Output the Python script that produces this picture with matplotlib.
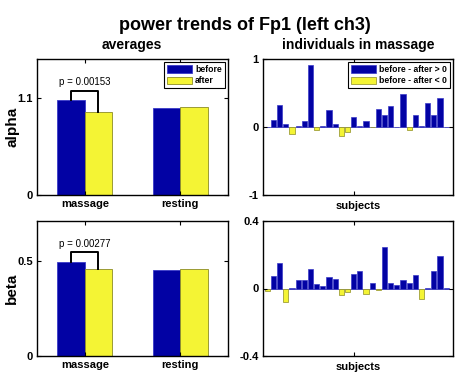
import numpy as np
import matplotlib
matplotlib.use('Agg')
import matplotlib.pyplot as plt

plt.rcParams['font.family'] = ['Liberation Sans', 'DejaVu Sans']
plt.rcParams['font.weight'] = 'bold'

# ---- data ----
conditions = ['massage', 'resting']
alpha_before = [1.073, 0.987]
alpha_after = [0.938, 0.998]
beta_before = [0.495, 0.451]
beta_after = [0.455, 0.455]
alpha_p = 'p = 0.00153'
beta_p = 'p = 0.00277'

# before - after per subject (massage)
alpha_diff = [0.0, 0.10, 0.33, 0.04, -0.10, 0.01, 0.09, 0.91, -0.05, 0.02,
              0.25, 0.04, -0.13, -0.08, 0.14, 0.01, 0.09, -0.005, 0.26, 0.17,
              0.31, 0.0, 0.49, -0.05, 0.17, 0.01, 0.35, 0.18, 0.42, 0.004]
beta_diff = [-0.012, 0.077, 0.149, -0.079, 0.003, 0.048, 0.050, 0.113, 0.028, 0.014,
             0.069, 0.057, -0.040, -0.018, 0.087, 0.105, -0.030, 0.030, -0.010, 0.248,
             0.030, 0.020, 0.048, 0.034, 0.081, -0.061, 0.001, 0.101, 0.194, 0.003]

BLUE = '#0202a4'
BLUE_EDGE = '#3a3ac8'
YELLOW = '#f4f434'
YELLOW_EDGE = '#8c8c24'

W, H = 459, 377
fig = plt.figure(figsize=(W / 100, H / 100), dpi=100)


def axes_px(left, top, right, bottom):
    return fig.add_axes([left / W, 1 - bottom / H, (right - left) / W, (bottom - top) / H])


def style(ax):
    ax.tick_params(direction='in', top=True, right=True, length=3, width=0.8,
                   labelsize=8, pad=3)
    for s in ax.spines.values():
        s.set_linewidth(1.0)
    for lab in ax.get_xticklabels() + ax.get_yticklabels():
        lab.set_fontweight('bold')


def avg_panel(ax, before, after, ymax, yticks, ptext, bracket_y, text_y):
    x = np.arange(1, len(before) + 1)
    bw = 0.286
    ax.bar(x - bw / 2, before, bw, color=BLUE, edgecolor=BLUE_EDGE, lw=0.6, label='before')
    ax.bar(x + bw / 2, after, bw, color=YELLOW, edgecolor=YELLOW_EDGE, lw=0.6, label='after')
    ax.set_xlim(0.5, 2.5)
    ax.set_ylim(0, ymax)
    ax.set_xticks(x)
    ax.set_xticklabels(conditions)
    ax.set_yticks(yticks)
    ax.set_yticklabels([str(t) for t in yticks])
    # significance bracket
    x0, x1 = x[0] - bw / 2, x[0] + bw / 2
    ax.plot([x0, x0, x1, x1], [before[0], bracket_y, bracket_y, after[0]],
            color='black', lw=1.4)
    ax.text(x[0], text_y, ptext, ha='center', va='center', fontsize=7, fontweight='normal')
    style(ax)


def ind_panel(ax, diff, lim):
    n = np.arange(1, len(diff) + 1)
    d = np.array(diff)
    pos = d >= 0
    ax.bar(n[pos], d[pos], 0.85, color=BLUE, edgecolor=BLUE_EDGE, lw=0.5,
           label='before - after > 0')
    ax.bar(n[~pos], d[~pos], 0.85, color=YELLOW, edgecolor=YELLOW_EDGE, lw=0.5,
           label='before - after < 0')
    ax.axhline(0, color='#9090b0', lw=0.7, zorder=0)
    ax.set_xlim(0.3, 31.1)
    ax.set_ylim(-lim, lim)
    ax.set_xticks([15])
    ax.set_xticklabels([''])
    ax.set_yticks([-lim, 0, lim])
    ax.set_yticklabels([f'{-lim:g}', '0', f'{lim:g}'])
    ax.set_xlabel('subjects', fontsize=8, fontweight='bold', labelpad=1)
    style(ax)


leg_kw = dict(loc='upper right', prop={'weight': 'bold', 'size': 6.2}, fancybox=False,
              edgecolor='black', framealpha=1, handlelength=2.9, handleheight=0.9,
              borderpad=0.3, labelspacing=0.25, handletextpad=0.4, borderaxespad=0.4)

ax1 = axes_px(37, 59, 228, 195)
avg_panel(ax1, alpha_before, alpha_after, 1.537, [0, 1.1], alpha_p, 1.178, 1.28)
lg = ax1.legend(**leg_kw)
lg.get_frame().set_linewidth(0.8)

ax2 = axes_px(263, 59, 453, 195)
ind_panel(ax2, alpha_diff, 1)
lg = ax2.legend(**leg_kw)
lg.get_frame().set_linewidth(0.8)

ax3 = axes_px(37, 221, 228, 356)
avg_panel(ax3, beta_before, beta_after, 0.71, [0, 0.5], beta_p, 0.547, 0.59)

ax4 = axes_px(263, 221, 453, 356)
ind_panel(ax4, beta_diff, 0.4)

fig.text(245 / W, 1 - 25 / H, 'power trends of Fp1 (left ch3)', ha='center', va='center',
         fontsize=13, fontweight='bold')
fig.text(132 / W, 1 - 45 / H, 'averages', ha='center', va='center',
         fontsize=10, fontweight='bold')
fig.text(358 / W, 1 - 45 / H, 'individuals in massage', ha='center', va='center',
         fontsize=10, fontweight='bold')
fig.text(12 / W, 1 - 127 / H, 'alpha', ha='center', va='center', rotation=90,
         fontsize=11, fontweight='bold')
fig.text(12 / W, 1 - 288 / H, 'beta', ha='center', va='center', rotation=90,
         fontsize=11, fontweight='bold')

fig.savefig('out.png', dpi=100, facecolor='white')
